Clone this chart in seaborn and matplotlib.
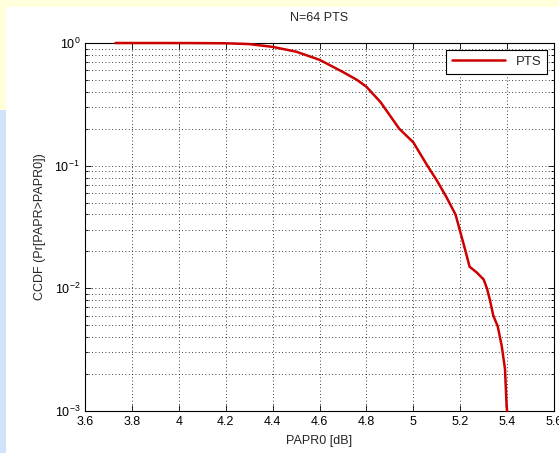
import numpy as np
import pandas as pd
import seaborn as sns
import matplotlib.pyplot as plt
from matplotlib.patches import Rectangle
from matplotlib.ticker import LogLocator, FixedLocator, NullFormatter

# CCDF of PAPR
papr0 = [3.73, 3.90, 4.05, 4.20, 4.30, 4.40, 4.50, 4.60, 4.70, 4.76, 4.80,
         4.86, 4.94, 5.00, 5.06, 5.10, 5.14, 5.18, 5.20, 5.22, 5.24,
         5.27, 5.30, 5.314, 5.327, 5.341, 5.36, 5.377, 5.391, 5.398, 5.40]
ccdf = [1.0, 1.0, 0.999, 0.995, 0.98, 0.93, 0.85, 0.73, 0.58, 0.50, 0.44,
        0.33, 0.20, 0.155, 0.10, 0.076, 0.056, 0.040, 0.029, 0.021, 0.015,
        0.0135, 0.0118, 0.010, 0.0080, 0.0060, 0.0049, 0.0034, 0.0022, 0.00109, 0.001]
xticks = [3.6, 3.8, 4.0, 4.2, 4.4, 4.6, 4.8, 5.0, 5.2, 5.4, 5.6]
xticklabels = ["3.6", "3.8", "4", "4.2", "4.4", "4.6", "4.8", "5", "5.2", "5.4", "5.6"]

df = pd.DataFrame({"PAPR0": papr0, "CCDF": ccdf, "scheme": "PTS"})

sns.set_style("white")
plt.rcParams["font.family"] = ["Liberation Sans", "DejaVu Sans"]
plt.rcParams["mathtext.default"] = "regular"

fig = plt.figure(figsize=(5.59, 4.53), dpi=100)
W, H = 559, 453

# slide background peeking around the screenshot
fig.patches.append(Rectangle((0, 1 - 7 / H), 1, 7 / H, transform=fig.transFigure,
                             facecolor="#ffffdc", edgecolor="none", zorder=-5))
fig.patches.append(Rectangle((0, 1 - 110 / H), 6 / W, 110 / H, transform=fig.transFigure,
                             facecolor="#ffffdc", edgecolor="none", zorder=-5))
fig.patches.append(Rectangle((0, 0), 6 / W, 1 - 110 / H, transform=fig.transFigure,
                             facecolor="#cfe4fa", edgecolor="none", zorder=-5))

ax = fig.add_axes([85 / W, 1 - 411 / H, (554 - 85) / W, (411 - 43) / H])

sns.lineplot(data=df, x="PAPR0", y="CCDF", hue="scheme", palette=["#cc0000"],
             linewidth=1.8, ax=ax, clip_on=False, zorder=3)

ax.set_yscale("log")
ax.set_xlim(3.6, 5.6)
ax.set_ylim(1e-3, 1)
ax.xaxis.set_major_locator(FixedLocator(xticks))
ax.set_xticklabels(xticklabels)
ax.yaxis.set_major_locator(LogLocator(base=10, numticks=10))
ax.yaxis.set_minor_locator(LogLocator(base=10, subs=np.arange(2, 10), numticks=10))
ax.yaxis.set_minor_formatter(NullFormatter())

ax.grid(True, which="major", color="black", linestyle=(0, (1, 3)), linewidth=0.6)
ax.grid(True, which="minor", axis="y", color="black", linestyle=(0, (1, 3)), linewidth=0.6)

ax.tick_params(which="both", direction="in", top=True, right=True,
               bottom=True, left=True, colors="black", labelsize=9)
ax.tick_params(which="major", length=4, width=0.6)
ax.tick_params(which="minor", length=2, width=0.6)
for sp in ax.spines.values():
    sp.set_color("black")
    sp.set_linewidth(0.8)

ax.set_title("N=64 PTS", fontsize=9, pad=16)
ax.set_xlabel("PAPR0 [dB]", fontsize=9, labelpad=5)
ax.set_ylabel("CCDF (Pr[PAPR>PAPR0])", fontsize=9, labelpad=6)

leg = ax.legend(loc="upper right", fontsize=9.5, frameon=True, fancybox=False,
                edgecolor="black", framealpha=1, handlelength=4.0,
                borderaxespad=0.5, borderpad=0.45)
leg.get_frame().set_linewidth(0.8)
leg.set_title(None)

fig.savefig("out.png", dpi=100)
